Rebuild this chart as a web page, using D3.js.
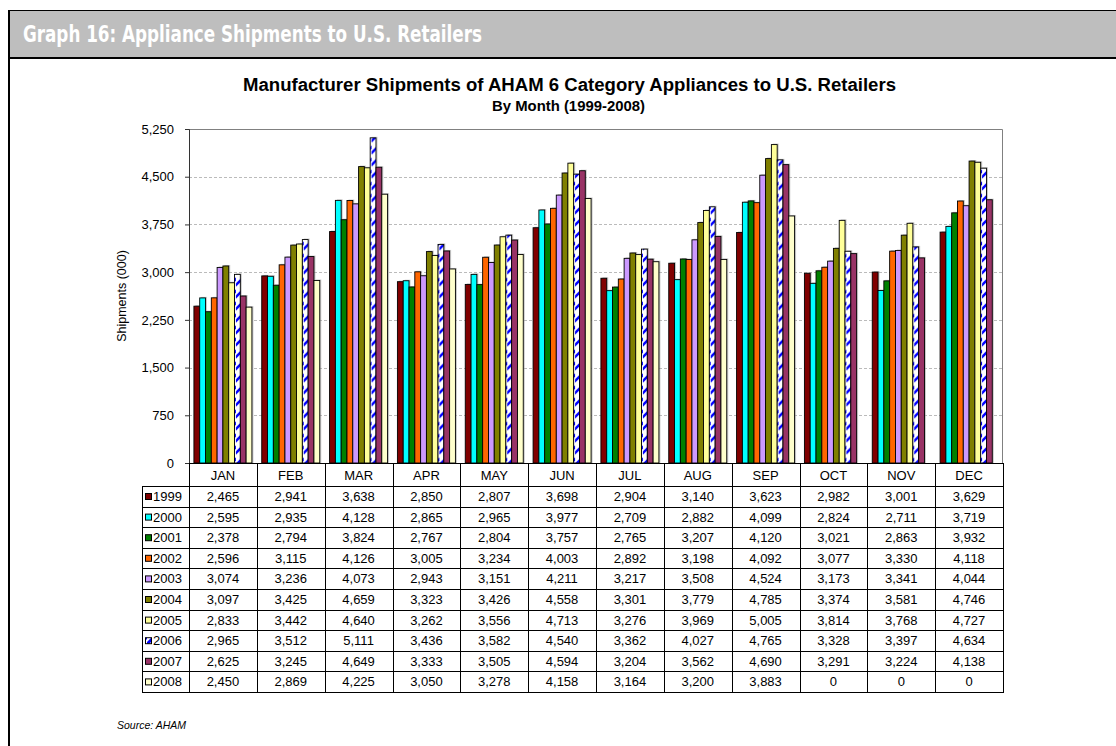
<!DOCTYPE html>
<html><head><meta charset="utf-8">
<script src="https://cdn.jsdelivr.net/npm/d3@7"></script>
<style>
html,body{margin:0;padding:0;background:#fff;}
svg text{font-family:"Liberation Sans",Arial,sans-serif;}
</style></head>
<body>
<svg id="c" width="1116" height="746"></svg>
<script>
const months = ["JAN","FEB","MAR","APR","MAY","JUN","JUL","AUG","SEP","OCT","NOV","DEC"];
const years = ["1999","2000","2001","2002","2003","2004","2005","2006","2007","2008"];
const s1999 = [2465,2941,3638,2850,2807,3698,2904,3140,3623,2982,3001,3629];
const s2000 = [2595,2935,4128,2865,2965,3977,2709,2882,4099,2824,2711,3719];
const s2001 = [2378,2794,3824,2767,2804,3757,2765,3207,4120,3021,2863,3932];
const s2002 = [2596,3115,4126,3005,3234,4003,2892,3198,4092,3077,3330,4118];
const s2003 = [3074,3236,4073,2943,3151,4211,3217,3508,4524,3173,3341,4044];
const s2004 = [3097,3425,4659,3323,3426,4558,3301,3779,4785,3374,3581,4746];
const s2005 = [2833,3442,4640,3262,3556,4713,3276,3969,5005,3814,3768,4727];
const s2006 = [2965,3512,5111,3436,3582,4540,3362,4027,4765,3328,3397,4634];
const s2007 = [2625,3245,4649,3333,3505,4594,3204,3562,4690,3291,3224,4138];
const s2008 = [2450,2869,4225,3050,3278,4158,3164,3200,3883,0,0,0];
const yTicks = [0,750,1500,2250,3000,3750,4500,5250];
const colors = ["#800000","#00FFFF","#008000","#FF6600","#CC99FF","#808000","#FFFF99","url(#stripe)","#993366","#FFFFCC"];

const series = [s1999,s2000,s2001,s2002,s2003,s2004,s2005,s2006,s2007,s2008];
const svg = d3.select("#c");
const defs = svg.append("defs");
const pat = defs.append("pattern").attr("id","stripe").attr("patternUnits","userSpaceOnUse")
  .attr("width",6).attr("height",12);
pat.append("rect").attr("width",6).attr("height",12).attr("fill","#fff");
pat.append("path").attr("d","M-1,10 L7,2").attr("stroke","#0000FF").attr("stroke-width",2.6);
const kp = defs.append("pattern").attr("id","stripeKey").attr("patternUnits","userSpaceOnUse")
  .attr("width",7).attr("height",7);
kp.append("rect").attr("width",7).attr("height",7).attr("fill","#fff");
kp.append("path").attr("d","M0,7 L7,0").attr("stroke","#0000FF").attr("stroke-width",3);

// Header band
svg.append("rect").attr("x",8).attr("y",10).attr("width",1108).attr("height",48).attr("fill","#BEBEBE");
svg.append("line").attr("x1",8).attr("x2",1116).attr("y1",10.5).attr("y2",10.5).attr("stroke","#000").attr("stroke-width",1);
svg.append("line").attr("x1",8).attr("x2",1116).attr("y1",58).attr("y2",58).attr("stroke","#000").attr("stroke-width",2);
svg.append("line").attr("x1",9).attr("x2",9).attr("y1",10).attr("y2",746).attr("stroke","#000").attr("stroke-width",2);
svg.append("text").attr("x",23).attr("y",42)
  .style("font-family","'Liberation Sans Narrow','DejaVu Sans Condensed',sans-serif")
  .style("font-stretch","condensed")
  .attr("font-size",22.5).attr("font-weight","bold").attr("fill","#fff")
  .attr("textLength",459).attr("lengthAdjust","spacingAndGlyphs")
  .text("Graph 16: Appliance Shipments to U.S. Retailers");

// Titles
svg.append("text").attr("x",243).attr("y",91)
  .attr("font-size",17.5).attr("font-weight","bold")
  .attr("textLength",653).attr("lengthAdjust","spacingAndGlyphs")
  .text("Manufacturer Shipments of AHAM 6 Category Appliances to U.S. Retailers");
svg.append("text").attr("x",492).attr("y",111)
  .attr("font-size",14.5).attr("font-weight","bold")
  .attr("textLength",153).attr("lengthAdjust","spacingAndGlyphs")
  .text("By Month (1999-2008)");

const L = 189, R = 1003, T = 129, B = 463;
const x = d3.scaleBand().domain(months).range([L,R]).paddingInner(0.145).paddingOuter(0.0725);
const xi = d3.scaleBand().domain(years).range([0,x.bandwidth()]);
const y = d3.scaleLinear().domain([0,5250]).range([B,T]);
const step = (R-L)/months.length;

// gridlines
svg.append("g").selectAll("line").data(yTicks.filter(d=>d>0 && d<5250)).join("line")
  .attr("x1",L).attr("x2",R).attr("y1",d=>Math.round(y(d))+0.5).attr("y2",d=>Math.round(y(d))+0.5)
  .attr("stroke","#BBBBBB").attr("stroke-dasharray","3,2");
// plot frame top and right
svg.append("path").attr("d",`M${L},${T+0.5} H${R-0.5} V${B}`).attr("fill","none").attr("stroke","#808080").attr("stroke-width",1);

// bars
const gMonths = svg.append("g").selectAll("g").data(months).join("g")
  .attr("transform",d=>`translate(${x(d)},0)`);
gMonths.selectAll("rect.sh").data((m,i)=>series.map((s,k)=>({yr:years[k],v:s[i],k}))).join("rect")
  .attr("class","sh")
  .attr("x",d=>xi(d.yr)+1.5).attr("y",d=>y(d.v)-1).attr("width",xi.bandwidth())
  .attr("height",d=>Math.max(0,B-y(d.v)+1)).attr("fill","#9a9a9a").attr("opacity",d=>d.v>0?0.55:0);
gMonths.selectAll("rect.bar").data((m,i)=>series.map((s,k)=>({yr:years[k],v:s[i],k}))).join("rect")
  .attr("class","bar")
  .attr("x",d=>xi(d.yr)).attr("y",d=>y(d.v)).attr("width",xi.bandwidth())
  .attr("height",d=>Math.max(0,B-y(d.v))).attr("fill",d=>colors[d.k])
  .attr("stroke","#000").attr("stroke-width",d=>d.v>0?0.9:0);

// y axis
const yAxis = d3.axisLeft(y).tickValues(yTicks).tickSize(4).tickFormat(d3.format(","));
const ga = svg.append("g").attr("transform",`translate(${L},0)`).call(yAxis);
ga.select(".domain").attr("stroke","#333");
ga.selectAll(".tick line").attr("stroke","#333");
ga.selectAll(".tick text").attr("font-size",13).attr("fill","#000").attr("x",-15)
  .style("font-family","'Liberation Sans',Arial,sans-serif");
svg.append("line").attr("x1",L).attr("x2",R).attr("y1",B+0.5).attr("y2",B+0.5).attr("stroke","#000");
svg.append("text").attr("transform","translate(126,296) rotate(-90)").attr("text-anchor","middle")
  .attr("font-size",12.5).text("Shipments (000)");

// table
const rowH = 20.6, headB = 486, legL = 142;
const tg = svg.append("g");
tg.selectAll("text.mh").data(months).join("text").attr("class","mh")
  .attr("x",(d,i)=>L+step*(i+0.5)).attr("y",480).attr("text-anchor","middle").attr("font-size",13).text(d=>d);
const vx = d3.range(months.length+1).map(i=>L+step*i);
tg.selectAll("line.v").data(vx).join("line").attr("class","v")
  .attr("x1",d=>Math.round(d)+0.5).attr("x2",d=>Math.round(d)+0.5)
  .attr("y1",B).attr("y2",headB+rowH*years.length).attr("stroke","#000");
tg.append("line").attr("x1",legL+0.5).attr("x2",legL+0.5).attr("y1",headB).attr("y2",headB+rowH*years.length).attr("stroke","#000");
const hy = d3.range(years.length+1).map(i=>headB+rowH*i);
tg.selectAll("line.h").data(hy).join("line").attr("class","h")
  .attr("x1",legL).attr("x2",R+1).attr("y1",d=>Math.round(d)+0.5).attr("y2",d=>Math.round(d)+0.5)
  .attr("stroke","#000");
years.forEach((yr,k)=>{
  const cy = headB+rowH*k;
  tg.append("rect").attr("x",145.5).attr("y",cy+7.5).attr("width",6).attr("height",6)
    .attr("fill",k===7?"url(#stripeKey)":colors[k]).attr("stroke","#000").attr("stroke-width",1);
  tg.append("text").attr("x",153).attr("y",cy+15).attr("font-size",13).text(yr);
  tg.selectAll(null).data(series[k]).join("text")
    .attr("x",(d,i)=>L+step*(i+0.5)).attr("y",cy+15).attr("text-anchor","middle").attr("font-size",13)
    .text(d=>d3.format(",")(d));
});

svg.append("text").attr("x",117).attr("y",729).attr("font-size",10.5).attr("font-style","italic").text("Source: AHAM");
</script>
</body></html>
